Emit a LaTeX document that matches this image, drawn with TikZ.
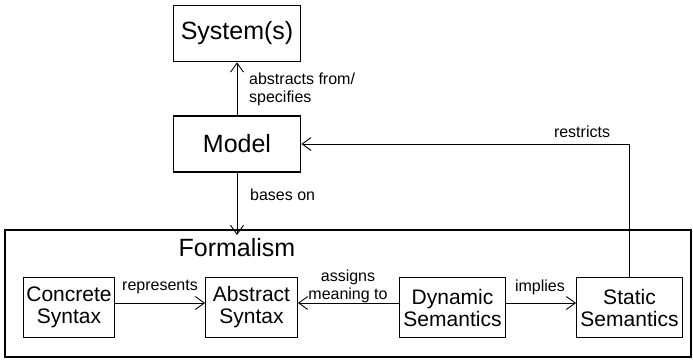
\documentclass[tikz,border=0pt]{standalone}
\usepackage{fontspec}
\setmainfont{Liberation Sans}
\usetikzlibrary{arrows.meta}

\tikzset{
  bigbox/.style={draw, line width=1.8pt, inner sep=0pt, minimum width=127pt, minimum height=56pt,
    font=\fontsize{25}{27}\selectfont},
  smallbox/.style={draw, line width=0.9pt, inner sep=0pt, minimum height=60pt, align=center,
    font=\fontsize{21}{22}\selectfont},
  lbl/.style={inner sep=0pt, font=\fontsize{16}{18}\selectfont},
  conn/.style={line width=0.9pt, -{Straight Barb[length=9pt,width=13pt]}},
}

\begin{document}
\begin{tikzpicture}[x=1pt, y=-1pt]
\useasboundingbox (0,0) rectangle (693,361);

% outer frame of the formalism
\draw[line width=2.6pt] (5,230) rectangle (691,357);
\node[inner sep=0pt, font=\fontsize{25}{27}\selectfont] (form) at (237,248) {Formalism};

\node[bigbox] (sys) at (237,33.5) {System(s)};
\node[bigbox] (model) at (237,144) {Model};

\node[smallbox, minimum width=91pt] (conc) at (69,307.5) {Concrete\\Syntax};
\node[smallbox, minimum width=92pt] (abs) at (251.5,307.5) {Abstract\\Syntax};
\node[smallbox, minimum width=106pt] (dyn) at (452.5,307.5) {Dynamic\\Semantics};
\node[smallbox, minimum width=106pt] (stat) at (629.5,307.5) {Static\\Semantics};

\coordinate (formtop) at (237,230);

\draw[conn] (model) -- (sys);
\draw[conn] (model) -- ([yshift=-5pt]formtop);
\draw[conn] ([yshift=4.5pt]conc.east) -- ([yshift=4.5pt]abs.west);
\draw[conn] ([yshift=4.5pt]dyn.west) -- ([yshift=4.5pt]abs.east);
\draw[conn] ([yshift=4.5pt]dyn.east) -- ([yshift=4.5pt]stat.west);
\draw[conn] (stat.north) |- (model.east);

\node[lbl, anchor=west, align=left] (l1) at (249,89) {abstracts from/\\specifies};
\node[lbl, anchor=west] (l2) at (250,195) {bases on};
\node[lbl] (l3) at (582,132) {restricts};
\node[lbl] (l4) at (160,287) {represents};
\node[lbl, align=center] (l5) at (348,286) {assigns\\meaning to};
\node[lbl] (l6) at (540,287) {implies};

\end{tikzpicture}
\end{document}
